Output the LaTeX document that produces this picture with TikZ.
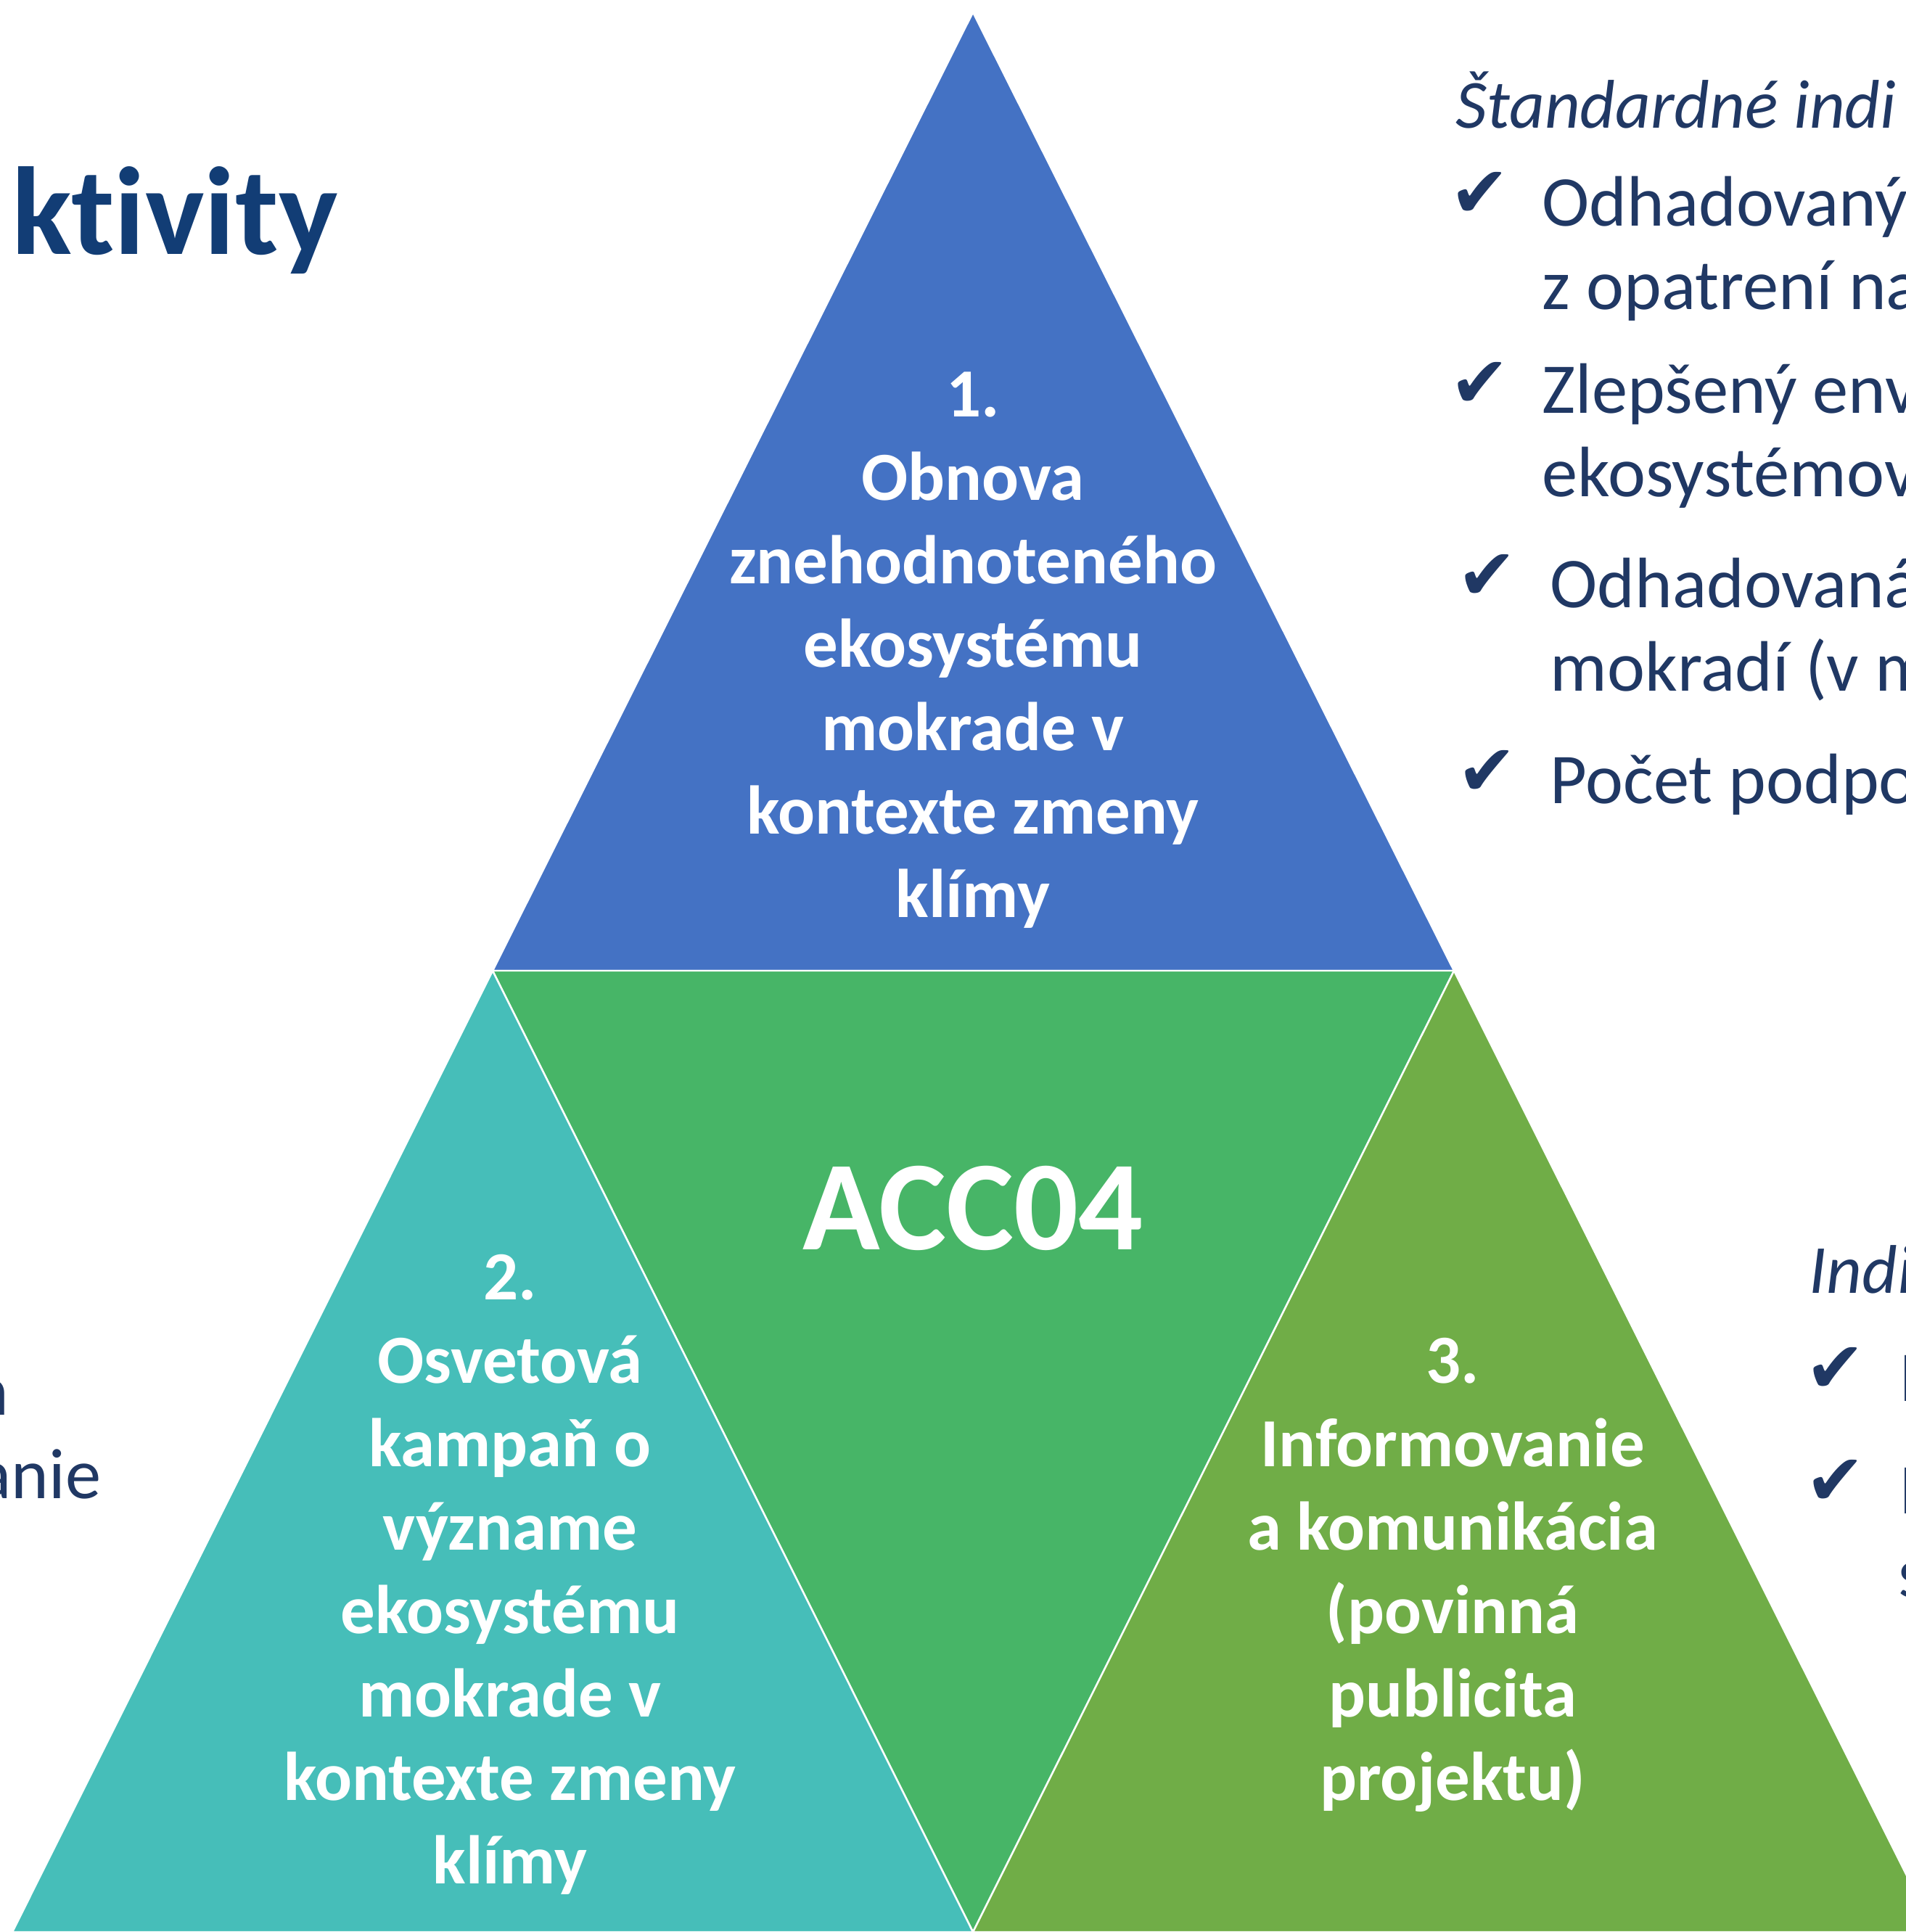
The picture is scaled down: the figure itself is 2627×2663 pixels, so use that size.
\documentclass[tikz,border=0pt]{standalone}
\usepackage{fontspec}
\setmainfont{Carlito}[Ligatures=NoCommon]
\newfontfamily\checkfont{DejaVu Sans}

\definecolor{actblue}{RGB}{68,114,196}
\definecolor{actteal}{RGB}{70,190,185}
\definecolor{actgreen}{RGB}{71,181,103}
\definecolor{actlime}{RGB}{112,173,71}
\definecolor{inddark}{RGB}{32,56,100}
\definecolor{titleblue}{RGB}{18,61,117}

\tikzset{
  tri/.style={draw=white, line width=0.7pt},
  acttext/.style={text=white, font=\bfseries\fontsize{27}{33}\selectfont, anchor=base, inner sep=0pt},
  indtext/.style={text=inddark, font=\fontsize{28}{34}\selectfont, anchor=base west, inner sep=0pt},
  indhead/.style={indtext, font=\itshape\fontsize{27}{33}\selectfont},
  tick/.style={text=inddark, font=\checkfont\fontsize{28}{32}\selectfont, inner sep=0pt},
}

\begin{document}
\begin{tikzpicture}[x=0.01cm, y=-0.01cm]
\useasboundingbox (0,0) rectangle (2627,2663);
\clip (0,0) rectangle (2627,2663);

\coordinate (top) at (1341,17);
\coordinate (bl) at (679,1338);
\coordinate (br) at (2004,1338);
\coordinate (bot) at (1341,2663);
\coordinate (botl) at (17,2663);
\coordinate (botr) at (2667,2663);

% the four triangles
\filldraw[tri, fill=actblue] (top) -- (bl) -- (br) -- cycle;
\filldraw[tri, fill=actgreen] (bl) -- (br) -- (bot) -- cycle;
\filldraw[tri, fill=actteal] (bl) -- (botl) -- (bot) -- cycle;
\filldraw[tri, fill=actlime] (br) -- (bot) -- (botr) -- cycle;

\node[text=titleblue, font=\bfseries\fontsize{49}{59}\selectfont, anchor=base east, inner sep=0pt]
  (title) at (466,350) {ktivity};

\node[text=white, font=\bfseries\fontsize{50}{60}\selectfont, anchor=base, inner sep=0pt]
  (code) at (1341,1722) {ACC04};

\foreach \txt [count=\i from 0] in {1., Obnova, znehodnoteného, ekosystému, mokrade v, kontexte zmeny, klímy}
  \node[acttext] (act1-\i) at (1341,574+115*\i) {\txt};
\foreach \txt [count=\i from 0] in {2., Osvetová, kampaň o, význame, ekosystému, mokrade v, kontexte zmeny, klímy}
  \node[acttext] (act2-\i) at (703,1791+115*\i) {\txt};
\foreach \txt [count=\i from 0] in {3., Informovanie, a komunikácia, {(povinná}, publicita, {projektu)}}
  \node[acttext] (act3-\i) at (2002,1906+115*\i) {\txt};

% indicators, right
\node[indhead] (std) at (2006,176) {Štandardné indi};
\node[tick] (tick1) at (2040,268) {✔};
\node[indtext] (std1a) at (2125,311) {Odhadovaný};
\node[indtext] (std1b) at (2125,426) {z opatrení na};
\node[tick] (tick2) at (2040,530) {✔};
\node[indtext] (std2a) at (2125,569) {Zlepšený env};
\node[indtext] (std2b) at (2125,684) {ekosystémov};
\node[tick] (tick3) at (2050,795) {✔};
\node[indtext] (std3a) at (2136,837) {Odhadovaná};
\node[indtext] (std3b) at (2136,952) {mokradí (v m};
\node[tick] (tick4) at (2050,1065) {✔};
\node[indtext] (std4a) at (2136,1107) {Počet podpo};

\node[indhead] (own) at (2493,1782) {Indi};
\node[tick] (tick5) at (2530,1888) {✔};
\node[indtext] (own1a) at (2618,1931) {P};
\node[tick] (tick6) at (2530,2043) {✔};
\node[indtext] (own2a) at (2618,2086) {P};
\node[indtext] (own2b) at (2616,2201) {s};

% left column
\node[indtext, anchor=base east] (left1) at (13,1950) {n};
\node[indtext, anchor=base east] (left2) at (140,2065) {anie};

\end{tikzpicture}
\end{document}
